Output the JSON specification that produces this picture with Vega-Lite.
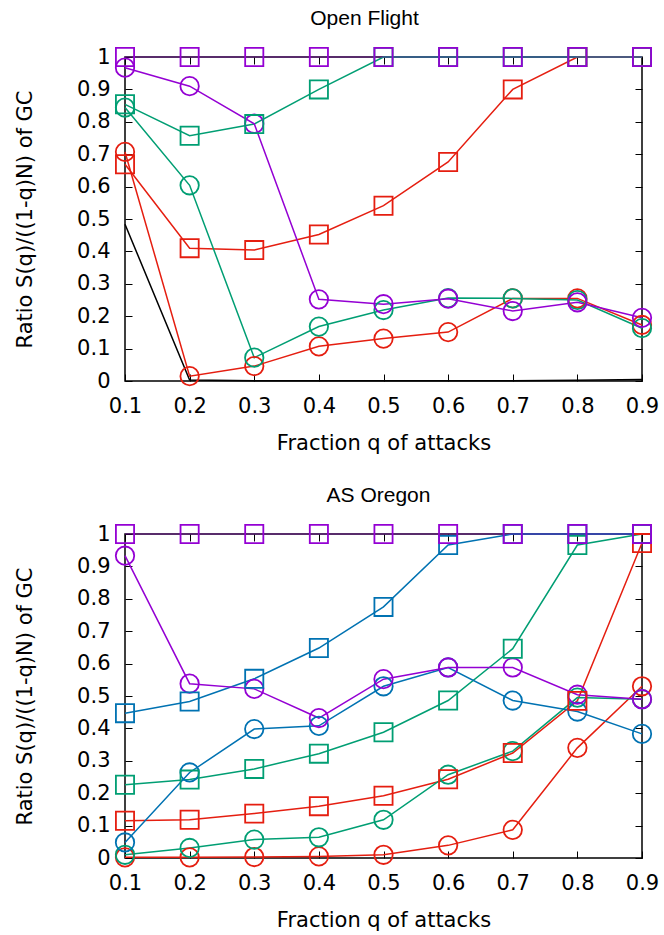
{
  "$schema": "https://vega.github.io/schema/vega-lite/v6.json",
  "padding": {"left": 13, "top": 7, "right": 5, "bottom": 0},
  "background": "white",
  "config": {
    "font": "DejaVu Sans",
    "view": {"stroke": "#000000", "strokeWidth": 1.5},
    "axis": {
      "labelFont": "DejaVu Sans", "labelFontSize": 21, "labelColor": "#000000", "labelFlush": false,
      "titleFont": "DejaVu Sans", "titleFontSize": 21, "titleFontWeight": "normal", "titleColor": "#000000",
      "tickColor": "#000000", "tickWidth": 1, "domain": false, "grid": false
    },
    "title": {"font": "Liberation Sans", "fontSize": 21, "fontWeight": "normal", "color": "#000000"}
  },
  "datasets": {
    "openflight": [
      {"q":0.1,"r":0.484,"col":"black","m":"none"},{"q":0.2,"r":0.003,"col":"black","m":"none"},{"q":0.3,"r":0.001,"col":"black","m":"none"},{"q":0.4,"r":0.001,"col":"black","m":"none"},{"q":0.5,"r":0.001,"col":"black","m":"none"},{"q":0.6,"r":0.001,"col":"black","m":"none"},{"q":0.7,"r":0.001,"col":"black","m":"none"},{"q":0.8,"r":0.002,"col":"black","m":"none"},{"q":0.9,"r":0.005,"col":"black","m":"none"},
      {"q":0.1,"r":0.707,"col":"red","m":"circle"},{"q":0.2,"r":0.015,"col":"red","m":"circle"},{"q":0.3,"r":0.046,"col":"red","m":"circle"},{"q":0.4,"r":0.107,"col":"red","m":"circle"},{"q":0.5,"r":0.131,"col":"red","m":"circle"},{"q":0.6,"r":0.151,"col":"red","m":"circle"},{"q":0.7,"r":0.255,"col":"red","m":"circle"},{"q":0.8,"r":0.255,"col":"red","m":"circle"},{"q":0.9,"r":0.173,"col":"red","m":"circle"},
      {"q":0.1,"r":0.669,"col":"red","m":"square"},{"q":0.2,"r":0.41,"col":"red","m":"square"},{"q":0.3,"r":0.404,"col":"red","m":"square"},{"q":0.4,"r":0.452,"col":"red","m":"square"},{"q":0.5,"r":0.541,"col":"red","m":"square"},{"q":0.6,"r":0.676,"col":"red","m":"square"},{"q":0.7,"r":0.9,"col":"red","m":"square"},{"q":0.8,"r":1.0,"col":"red","m":"square"},{"q":0.9,"r":1.0,"col":"red","m":"square"},
      {"q":0.1,"r":0.844,"col":"green","m":"circle"},{"q":0.2,"r":0.604,"col":"green","m":"circle"},{"q":0.3,"r":0.072,"col":"green","m":"circle"},{"q":0.4,"r":0.168,"col":"green","m":"circle"},{"q":0.5,"r":0.219,"col":"green","m":"circle"},{"q":0.6,"r":0.256,"col":"green","m":"circle"},{"q":0.7,"r":0.255,"col":"green","m":"circle"},{"q":0.8,"r":0.25,"col":"green","m":"circle"},{"q":0.9,"r":0.163,"col":"green","m":"circle"},
      {"q":0.1,"r":0.854,"col":"green","m":"square"},{"q":0.2,"r":0.757,"col":"green","m":"square"},{"q":0.3,"r":0.793,"col":"green","m":"square"},{"q":0.4,"r":0.9,"col":"green","m":"square"},{"q":0.5,"r":1.0,"col":"green","m":"square"},{"q":0.6,"r":1.0,"col":"green","m":"square"},{"q":0.7,"r":1.0,"col":"green","m":"square"},{"q":0.8,"r":1.0,"col":"green","m":"square"},{"q":0.9,"r":1.0,"col":"green","m":"square"},
      {"q":0.1,"r":0.967,"col":"purple","m":"circle"},{"q":0.2,"r":0.91,"col":"purple","m":"circle"},{"q":0.3,"r":0.794,"col":"purple","m":"circle"},{"q":0.4,"r":0.252,"col":"purple","m":"circle"},{"q":0.5,"r":0.237,"col":"purple","m":"circle"},{"q":0.6,"r":0.254,"col":"purple","m":"circle"},{"q":0.7,"r":0.216,"col":"purple","m":"circle"},{"q":0.8,"r":0.243,"col":"purple","m":"circle"},{"q":0.9,"r":0.195,"col":"purple","m":"circle"},
      {"q":0.1,"r":1.0,"col":"purple","m":"square"},{"q":0.2,"r":1.0,"col":"purple","m":"square"},{"q":0.3,"r":1.0,"col":"purple","m":"square"},{"q":0.4,"r":1.0,"col":"purple","m":"square"},{"q":0.5,"r":1.0,"col":"purple","m":"square"},{"q":0.6,"r":1.0,"col":"purple","m":"square"},{"q":0.7,"r":1.0,"col":"purple","m":"square"},{"q":0.8,"r":1.0,"col":"purple","m":"square"},{"q":0.9,"r":1.0,"col":"purple","m":"square"}
    ],
    "asoregon": [
      {"q":0.1,"r":0.002,"col":"red","m":"circle"},{"q":0.2,"r":0.002,"col":"red","m":"circle"},{"q":0.3,"r":0.003,"col":"red","m":"circle"},{"q":0.4,"r":0.005,"col":"red","m":"circle"},{"q":0.5,"r":0.01,"col":"red","m":"circle"},{"q":0.6,"r":0.039,"col":"red","m":"circle"},{"q":0.7,"r":0.087,"col":"red","m":"circle"},{"q":0.8,"r":0.34,"col":"red","m":"circle"},{"q":0.9,"r":0.53,"col":"red","m":"circle"},
      {"q":0.1,"r":0.115,"col":"red","m":"square"},{"q":0.2,"r":0.118,"col":"red","m":"square"},{"q":0.3,"r":0.137,"col":"red","m":"square"},{"q":0.4,"r":0.16,"col":"red","m":"square"},{"q":0.5,"r":0.192,"col":"red","m":"square"},{"q":0.6,"r":0.243,"col":"red","m":"square"},{"q":0.7,"r":0.324,"col":"red","m":"square"},{"q":0.8,"r":0.485,"col":"red","m":"square"},{"q":0.9,"r":0.972,"col":"red","m":"square"},
      {"q":0.1,"r":0.01,"col":"green","m":"circle"},{"q":0.2,"r":0.031,"col":"green","m":"circle"},{"q":0.3,"r":0.057,"col":"green","m":"circle"},{"q":0.4,"r":0.064,"col":"green","m":"circle"},{"q":0.5,"r":0.118,"col":"green","m":"circle"},{"q":0.6,"r":0.257,"col":"green","m":"circle"},{"q":0.7,"r":0.33,"col":"green","m":"circle"},{"q":0.8,"r":0.495,"col":"green","m":"circle"},{"q":0.9,"r":0.49,"col":"green","m":"circle"},
      {"q":0.1,"r":0.226,"col":"green","m":"square"},{"q":0.2,"r":0.242,"col":"green","m":"square"},{"q":0.3,"r":0.275,"col":"green","m":"square"},{"q":0.4,"r":0.322,"col":"green","m":"square"},{"q":0.5,"r":0.388,"col":"green","m":"square"},{"q":0.6,"r":0.486,"col":"green","m":"square"},{"q":0.7,"r":0.646,"col":"green","m":"square"},{"q":0.8,"r":0.966,"col":"green","m":"square"},{"q":0.9,"r":1.0,"col":"green","m":"square"},
      {"q":0.1,"r":0.048,"col":"blue","m":"circle"},{"q":0.2,"r":0.264,"col":"blue","m":"circle"},{"q":0.3,"r":0.398,"col":"blue","m":"circle"},{"q":0.4,"r":0.408,"col":"blue","m":"circle"},{"q":0.5,"r":0.53,"col":"blue","m":"circle"},{"q":0.6,"r":0.588,"col":"blue","m":"circle"},{"q":0.7,"r":0.486,"col":"blue","m":"circle"},{"q":0.8,"r":0.452,"col":"blue","m":"circle"},{"q":0.9,"r":0.383,"col":"blue","m":"circle"},
      {"q":0.1,"r":0.447,"col":"blue","m":"square"},{"q":0.2,"r":0.483,"col":"blue","m":"square"},{"q":0.3,"r":0.553,"col":"blue","m":"square"},{"q":0.4,"r":0.648,"col":"blue","m":"square"},{"q":0.5,"r":0.775,"col":"blue","m":"square"},{"q":0.6,"r":0.966,"col":"blue","m":"square"},{"q":0.7,"r":1.0,"col":"blue","m":"square"},{"q":0.8,"r":1.0,"col":"blue","m":"square"},{"q":0.9,"r":1.0,"col":"blue","m":"square"},
      {"q":0.1,"r":0.933,"col":"purple","m":"circle"},{"q":0.2,"r":0.538,"col":"purple","m":"circle"},{"q":0.3,"r":0.522,"col":"purple","m":"circle"},{"q":0.4,"r":0.432,"col":"purple","m":"circle"},{"q":0.5,"r":0.552,"col":"purple","m":"circle"},{"q":0.6,"r":0.588,"col":"purple","m":"circle"},{"q":0.7,"r":0.588,"col":"purple","m":"circle"},{"q":0.8,"r":0.504,"col":"purple","m":"circle"},{"q":0.9,"r":0.49,"col":"purple","m":"circle"},
      {"q":0.1,"r":1.0,"col":"purple","m":"square"},{"q":0.2,"r":1.0,"col":"purple","m":"square"},{"q":0.3,"r":1.0,"col":"purple","m":"square"},{"q":0.4,"r":1.0,"col":"purple","m":"square"},{"q":0.5,"r":1.0,"col":"purple","m":"square"},{"q":0.6,"r":1.0,"col":"purple","m":"square"},{"q":0.7,"r":1.0,"col":"purple","m":"square"},{"q":0.8,"r":1.0,"col":"purple","m":"square"},{"q":0.9,"r":1.0,"col":"purple","m":"square"}
    ]
  },
  "vconcat": [
    {
      "title": {"text": "Open Flight", "offset": 15, "dx": -19},
      "width": 517, "height": 324,
      "data": {"name": "openflight"},
      "layer": [
        {
          "mark": {"type": "line", "strokeWidth": 1.5},
          "encoding": {
            "x": {"field": "q", "type": "quantitative", "scale": {"domain": [0.1, 0.9], "nice": false, "zero": false},
                  "axis": {"orient": "bottom", "values": [0.1,0.2,0.3,0.4,0.5,0.6,0.7,0.8,0.9], "format": ".1f", "ticks": false, "labelPadding": 14, "title": "Fraction q of attacks", "titlePadding": 16}},
            "y": {"field": "r", "type": "quantitative", "scale": {"domain": [0, 1], "nice": false},
                  "axis": {"orient": "left", "values": [0,0.1,0.2,0.3,0.4,0.5,0.6,0.7,0.8,0.9,1], "format": "~g", "ticks": false, "labelPadding": 15, "title": "Ratio S(q)/((1-q)N) of GC", "titlePadding": 41}},
            "color": {"field": "col", "type": "nominal", "legend": null,
                      "scale": {"domain": ["black","red","green","blue","purple"], "range": ["#000000","#e51e10","#009e73","#0072b2","#9400d3"]}},
            "detail": [{"field": "col"}, {"field": "m"}],
            "strokeOpacity": {"condition": {"test": "datum.col == 'purple' && datum.m == 'square'", "value": 0.4}, "value": 1}
          }
        },
        {
          "transform": [{"filter": "datum.m == 'circle'"}],
          "mark": {"type": "point", "shape": "circle", "filled": false, "size": 340, "strokeWidth": 1.8, "opacity": 1},
          "encoding": {
            "x": {"field": "q", "type": "quantitative", "scale": {"domain": [0.1, 0.9], "nice": false, "zero": false},
                  "axis": {"orient": "top", "values": [0.1,0.2,0.3,0.4,0.5,0.6,0.7,0.8,0.9], "labels": false, "tickSize": -7, "title": null}},
            "y": {"field": "r", "type": "quantitative", "scale": {"domain": [0, 1], "nice": false},
                  "axis": {"orient": "right", "values": [0,0.1,0.2,0.3,0.4,0.5,0.6,0.7,0.8,0.9,1], "labels": false, "tickSize": -7, "title": null}},
            "color": {"field": "col", "type": "nominal", "legend": null}
          }
        },
        {
          "transform": [{"filter": "datum.m == 'square'"}],
          "mark": {"type": "point", "shape": "square", "filled": false, "size": 330, "strokeWidth": 1.8, "opacity": 1},
          "encoding": {
            "x": {"field": "q", "type": "quantitative",
                  "axis": {"orient": "bottom", "values": [0.1,0.2,0.3,0.4,0.5,0.6,0.7,0.8,0.9], "labels": false, "tickSize": -7, "title": null}},
            "y": {"field": "r", "type": "quantitative",
                  "axis": {"orient": "left", "values": [0,0.1,0.2,0.3,0.4,0.5,0.6,0.7,0.8,0.9,1], "labels": false, "tickSize": -7, "title": null}},
            "color": {"field": "col", "type": "nominal", "legend": null}
          }
        }
      ],
      "resolve": {"axis": {"x": "independent", "y": "independent"}}
    },
    {
      "title": {"text": "AS Oregon", "offset": 15, "dx": -5},
      "width": 517, "height": 324,
      "data": {"name": "asoregon"},
      "layer": [
        {
          "mark": {"type": "line", "strokeWidth": 1.5},
          "encoding": {
            "x": {"field": "q", "type": "quantitative", "scale": {"domain": [0.1, 0.9], "nice": false, "zero": false},
                  "axis": {"orient": "bottom", "values": [0.1,0.2,0.3,0.4,0.5,0.6,0.7,0.8,0.9], "format": ".1f", "ticks": false, "labelPadding": 14, "title": "Fraction q of attacks", "titlePadding": 16}},
            "y": {"field": "r", "type": "quantitative", "scale": {"domain": [0, 1], "nice": false},
                  "axis": {"orient": "left", "values": [0,0.1,0.2,0.3,0.4,0.5,0.6,0.7,0.8,0.9,1], "format": "~g", "ticks": false, "labelPadding": 15, "title": "Ratio S(q)/((1-q)N) of GC", "titlePadding": 41}},
            "color": {"field": "col", "type": "nominal", "legend": null,
                      "scale": {"domain": ["black","red","green","blue","purple"], "range": ["#000000","#e51e10","#009e73","#0072b2","#9400d3"]}},
            "detail": [{"field": "col"}, {"field": "m"}],
            "strokeOpacity": {"condition": {"test": "datum.col == 'purple' && datum.m == 'square'", "value": 0.4}, "value": 1}
          }
        },
        {
          "transform": [{"filter": "datum.m == 'circle'"}],
          "mark": {"type": "point", "shape": "circle", "filled": false, "size": 340, "strokeWidth": 1.8, "opacity": 1},
          "encoding": {
            "x": {"field": "q", "type": "quantitative", "scale": {"domain": [0.1, 0.9], "nice": false, "zero": false},
                  "axis": {"orient": "top", "values": [0.1,0.2,0.3,0.4,0.5,0.6,0.7,0.8,0.9], "labels": false, "tickSize": -7, "title": null}},
            "y": {"field": "r", "type": "quantitative", "scale": {"domain": [0, 1], "nice": false},
                  "axis": {"orient": "right", "values": [0,0.1,0.2,0.3,0.4,0.5,0.6,0.7,0.8,0.9,1], "labels": false, "tickSize": -7, "title": null}},
            "color": {"field": "col", "type": "nominal", "legend": null}
          }
        },
        {
          "transform": [{"filter": "datum.m == 'square'"}],
          "mark": {"type": "point", "shape": "square", "filled": false, "size": 330, "strokeWidth": 1.8, "opacity": 1},
          "encoding": {
            "x": {"field": "q", "type": "quantitative",
                  "axis": {"orient": "bottom", "values": [0.1,0.2,0.3,0.4,0.5,0.6,0.7,0.8,0.9], "labels": false, "tickSize": -7, "title": null}},
            "y": {"field": "r", "type": "quantitative",
                  "axis": {"orient": "left", "values": [0,0.1,0.2,0.3,0.4,0.5,0.6,0.7,0.8,0.9,1], "labels": false, "tickSize": -7, "title": null}},
            "color": {"field": "col", "type": "nominal", "legend": null}
          }
        }
      ],
      "resolve": {"axis": {"x": "independent", "y": "independent"}}
    }
  ],
  "spacing": 30
}
